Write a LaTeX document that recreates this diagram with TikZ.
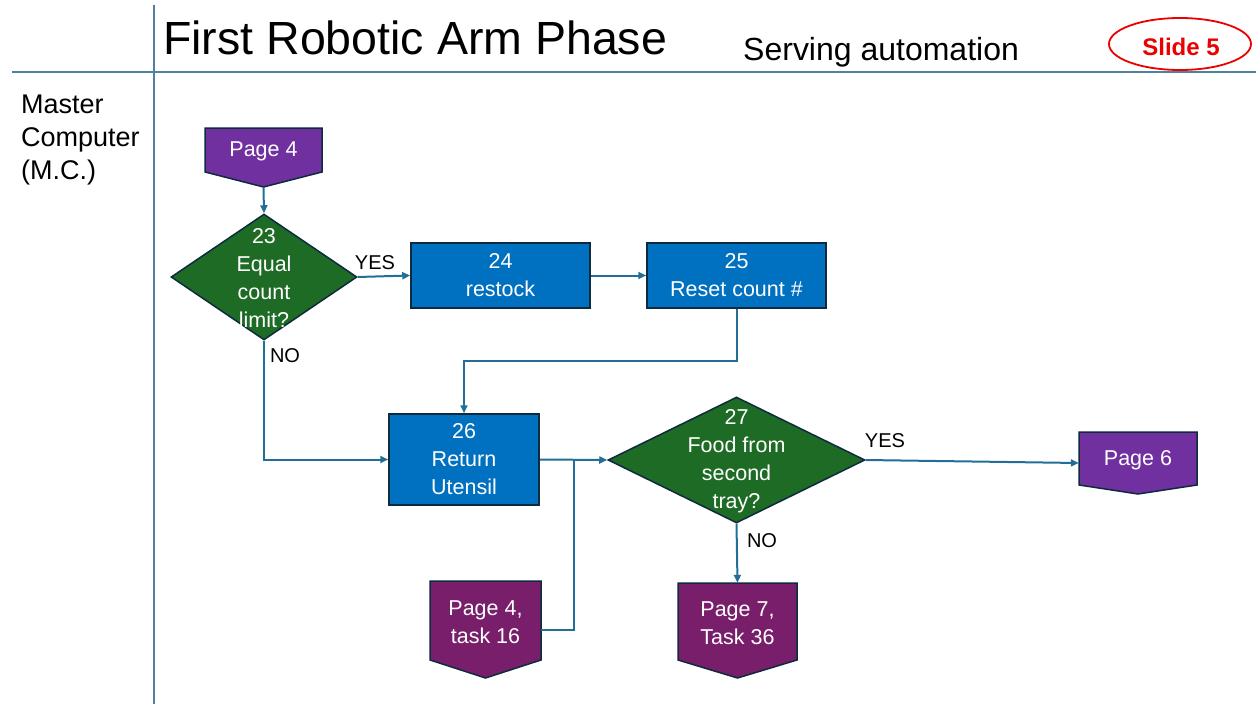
\documentclass[tikz,border=0pt]{standalone}
\usepackage{fontspec}
\setmainfont{Liberation Sans}
\usetikzlibrary{shapes.geometric,arrows.meta,calc}

\definecolor{lane}{RGB}{79,129,160}
\definecolor{conn}{RGB}{35,110,150}
\definecolor{edge}{RGB}{14,42,63}
\definecolor{taskblue}{RGB}{0,112,192}
\definecolor{decgreen}{RGB}{29,107,36}
\definecolor{pgpurple}{RGB}{112,48,160}
\definecolor{pgplum}{RGB}{120,30,106}
\definecolor{slidered}{RGB}{235,0,0}

% off-page connector: name, centre x, top y, width, side bottom y, tip y, fill, text
\newcommand\offpg[8]{%
  \draw[fill=#7, draw=edge, line width=1.5pt, line join=miter]
    ({#2-#4/2},#3) -- ({#2+#4/2},#3) -- ({#2+#4/2},#5) -- (#2,#6) -- ({#2-#4/2},#5) -- cycle;
  \pgfmathsetmacro\offpgh{#6-#3}%
  \node[minimum width=#4pt, minimum height=\offpgh pt, inner sep=0pt] (#1) at (#2,{(#3+#6)/2}) {};
  \node[boxtext] at (#2,{(#3+#5)/2+1.5}) {#8};
}

\begin{document}
\begin{tikzpicture}[x=1pt,y=-1pt,
  boxtext/.style={text=white, align=center, font=\fontsize{21.5}{28}\selectfont},
  taskbox/.style={rectangle, draw=edge, line width=1.5pt, fill=taskblue, inner sep=0pt,
    boxtext},
  decision/.style={diamond, draw=edge, line width=1.5pt, fill=decgreen, inner sep=0pt},
  conn/.style={draw=conn, line width=2pt, -{Triangle[length=8pt,width=7pt]}},
  connplain/.style={draw=conn, line width=2pt},
  lbl/.style={font=\fontsize{20}{22}\selectfont, text=black, inner sep=0pt}]

\useasboundingbox (0,0) rectangle (1256,704);

% swimlane frame
\draw[lane, line width=1.6pt] (12,72) -- (1256,72);
\draw[lane, line width=1.6pt] (154,5) -- (154,704);

% header texts
\node[anchor=base west, inner sep=0pt, font=\fontsize{46.5}{50}\selectfont] (title) at (163,54) {First Robotic Arm Phase};
\node[anchor=base west, inner sep=0pt, font=\fontsize{32}{34}\selectfont] (sub) at (743,60) {Serving automation};
\node[ellipse, draw=slidered, line width=1.8pt, minimum width=142pt, minimum height=52pt, inner sep=0pt] (slide) at (1180,44) {};
\node[text=slidered, font=\bfseries\fontsize{24}{26}\selectfont, inner sep=0pt] (slidetxt) at (1181,47) {Slide 5};

% lane label
\node[anchor=north west, align=left, inner sep=0pt, font=\fontsize{27}{33}\selectfont] (lanelbl) at (21,95) {Master\\Computer\\(M.C.)};

% off-page connectors
\offpg{p4}{263.5}{128}{117}{172}{187}{pgpurple}{Page 4}
\offpg{p416}{485.5}{581}{111}{660}{678}{pgplum}{Page 4,\\task 16}
\offpg{p736}{737.5}{583}{119}{660}{678}{pgplum}{Page 7,\\Task 36}
\offpg{p6}{1138}{432}{118}{485}{494}{pgpurple}{Page 6}

% decisions
\node[decision, minimum width=186pt, minimum height=126pt] (d23) at (264,277) {};
\node[boxtext] at (264,278) {23\\Equal\\count\\limit?};
\node[decision, minimum width=257pt, minimum height=126pt] (d27) at (736.5,460) {};
\node[boxtext] at (736.5,461) {27\\Food from\\second\\tray?};

% tasks
\node[taskbox, minimum width=179pt, minimum height=65pt] (b24) at (500.5,275.5) {24\\restock};
\node[taskbox, minimum width=179pt, minimum height=65pt] (b25) at (736.5,275.5) {25\\Reset count \#};
\node[taskbox, minimum width=150pt, minimum height=91pt] (b26) at (464,459.5) {26\\Return\\Utensil};

% routing points
\coordinate (k) at (736.5,361);
\coordinate (j) at (574,460);

% connectors
\draw[conn] (p4.south) -- (d23.north);
\draw[conn] (d23.east) -- (b24.west);
\draw[conn] (b24.east) -- (b25.west);
\draw[conn] (b25.south) -- (k) -| (b26.north);
\draw[conn] (d23.south) |- (b26.west);
\draw[conn] (b26.east) -- (d27.west);
\draw[connplain] (p416.east) -| (j);
\draw[conn] (d27.south) -- (p736.north);
\draw[conn] (d27.east) -- (p6.west);

% branch labels
\node[lbl] (yes1) at (375,263) {YES};
\node[lbl] (no1) at (285,356) {NO};
\node[lbl] (yes2) at (885,441) {YES};
\node[lbl] (no2) at (762,541) {NO};

\end{tikzpicture}
\end{document}
